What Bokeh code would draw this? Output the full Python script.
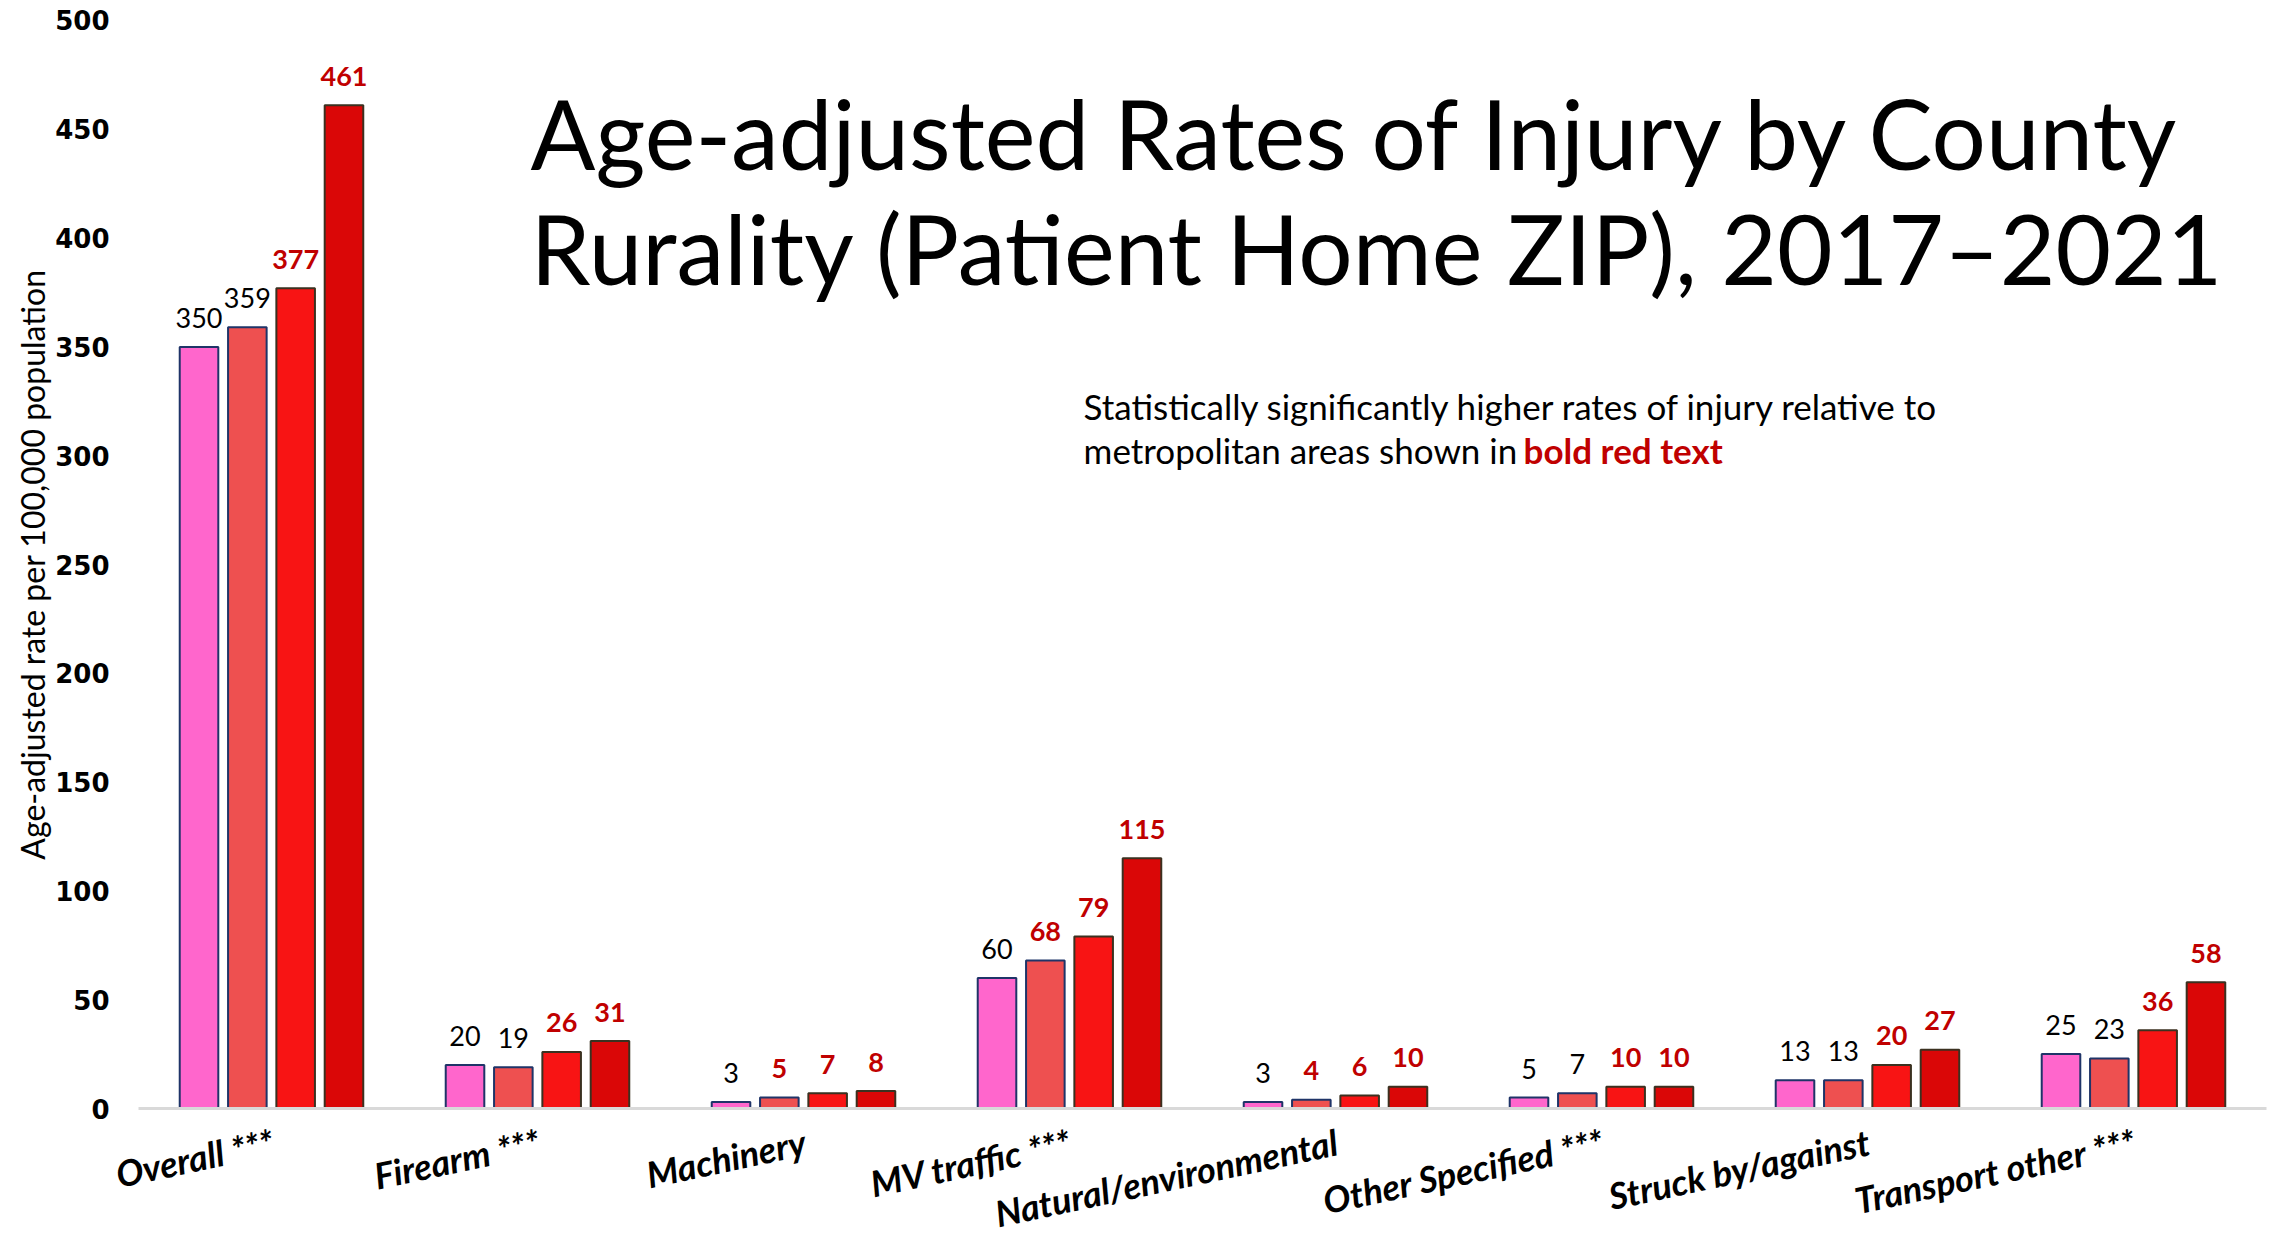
from bokeh.plotting import figure
from bokeh.models import ColumnDataSource, Range1d, Label, FixedTicker
from bokeh.core.properties import value
from bokeh.embed import file_html
from bokeh.resources import INLINE

# ---------------- data ----------------
categories = ["Overall ***", "Firearm ***", "Machinery", "MV traffic ***",
              "Natural/environmental", "Other Specified ***",
              "Struck by/against", "Transport other ***"]
metropolitan = [350, 20, 3, 60, 3, 5, 13, 25]
micropolitan = [359, 19, 5, 68, 4, 7, 13, 23]
small_rural = [377, 26, 7, 79, 6, 10, 20, 36]
isolated_rural = [461, 31, 8, 115, 10, 10, 27, 58]
# statistically significant vs metropolitan (shown bold red)
metropolitan_sig = [False, False, False, False, False, False, False, False]
micropolitan_sig = [False, False, True, True, True, False, False, False]
small_rural_sig = [True, True, True, True, True, True, True, True]
isolated_rural_sig = [True, True, True, True, True, True, True, True]
y_ticks = [0, 50, 100, 150, 200, 250, 300, 350, 400, 450, 500]

title_lines = ["Age-adjusted Rates of Injury by County",
               "Rurality (Patient Home ZIP), 2017\u20132021"]
note_line1 = "Statistically significantly higher rates of injury relative to"
note_line2 = "metropolitan areas shown in"
note_bold = "bold red text"
y_label = "Age-adjusted rate per 100,000 population"

# ---------------- styles ----------------
series = [
    (metropolitan, metropolitan_sig, "#FF66CC", "#1F3468", -0.2725),
    (micropolitan, micropolitan_sig, "#EE5050", "#1F3468", -0.0908),
    (small_rural, small_rural_sig, "#F81414", "#3B3120", 0.0908),
    (isolated_rural, isolated_rural_sig, "#DA0707", "#3B3120", 0.2725),
]
SIG_RED = "#C00000"
FONT = "Lato"

n_cat = len(categories)
centers = [i + 0.5 for i in range(n_cat)]   # category slots 0..n_cat

# the frame covers the whole canvas; axes are pinned inside it so that
# rotated category names and the value axis are not clipped
p = figure(x_range=Range1d(-0.5188, 8.0414),
           y_range=Range1d(-59.74, 509.19),
           width=2277, height=1238,
           output_backend="svg", toolbar_location=None,
           min_border_left=0, min_border_right=0,
           min_border_top=0, min_border_bottom=0)
p.outline_line_color = None
p.background_fill_color = "white"
p.border_fill_color = "white"
p.xgrid.grid_line_color = None
p.ygrid.grid_line_color = None

for vals, sig, fill, line, off in series:
    src = ColumnDataSource(dict(
        x=[c + off for c in centers],
        val=vals,
        label=[str(v) for v in vals],
        color=[SIG_RED if s else "black" for s in sig],
        style=["bold" if s else "normal" for s in sig],
    ))
    p.vbar(x="x", top="val", width=0.145, source=src,
           fill_color=fill, line_color=line, line_width=2)
    p.text(x="x", y="val", text="label", source=src,
           text_align="center", text_baseline="alphabetic",
           y_offset=-29, text_font=value(FONT), text_font_size="27px",
           text_color="color", text_font_style="style")

# category names, rotated, hanging below the baseline
cat_src = ColumnDataSource(dict(x=centers, base=[0] * n_cat, cat=categories))
p.text(x="x", y="base", text="cat", source=cat_src, angle=0.21,
       text_align="right", text_baseline="top", x_offset=-3, y_offset=11,
       text_font=value(FONT), text_font_style="bold italic",
       text_font_size="36px", text_color="black")

# y axis pinned at the left edge of the first category slot
p.yaxis.fixed_location = 0
p.yaxis.bounds = (0, 500)
p.yaxis.ticker = FixedTicker(ticks=y_ticks)
p.yaxis.axis_line_color = None
p.yaxis.major_tick_line_color = None
p.yaxis.minor_tick_line_color = None
p.yaxis.major_tick_out = 0
p.yaxis.major_tick_in = 0
p.yaxis.major_label_text_font = "DejaVu Sans"
p.yaxis.major_label_text_font_style = "bold"
p.yaxis.major_label_text_font_size = "26px"
p.yaxis.major_label_text_color = "black"
p.yaxis.major_label_standoff = 29
p.yaxis.axis_label = y_label
p.yaxis.axis_label_text_font = FONT
p.yaxis.axis_label_text_font_style = "normal"
p.yaxis.axis_label_text_font_size = "32px"
p.yaxis.axis_label_text_color = "black"
p.yaxis.axis_label_standoff = 0

# x axis: just the light baseline across the category slots
p.xaxis.fixed_location = 0
p.xaxis.bounds = (0, n_cat)
p.xaxis.ticker = FixedTicker(ticks=[])
p.xaxis.axis_line_color = "#D9D9D9"
p.xaxis.axis_line_width = 3
p.xaxis.major_tick_line_color = None
p.xaxis.minor_tick_line_color = None
p.xaxis.major_label_text_color = None

# title (two lines)
p.add_layout(Label(x=1.474, y=448.3, text=title_lines[0], text_font=FONT,
                   text_font_size="96px", text_color="black",
                   text_baseline="alphabetic", text_align="left"))
p.add_layout(Label(x=1.474, y=395.9, text=title_lines[1], text_font=FONT,
                   text_font_size="96px", text_color="black",
                   text_baseline="alphabetic", text_align="left"))

# note
p.add_layout(Label(x=3.553, y=322.9, text=note_line1, text_font=FONT,
                   text_font_size="35px", text_color="black",
                   text_baseline="alphabetic", text_align="left"))
p.add_layout(Label(x=3.553, y=302.7, text=note_line2, text_font=FONT,
                   text_font_size="35px", text_color="black",
                   text_baseline="alphabetic", text_align="left"))
p.add_layout(Label(x=5.207, y=302.7, text=note_bold, text_font=FONT,
                   text_font_size="35px", text_color=SIG_RED,
                   text_font_style="bold",
                   text_baseline="alphabetic", text_align="left"))

open("out.html", "w").write(file_html(p, INLINE))
